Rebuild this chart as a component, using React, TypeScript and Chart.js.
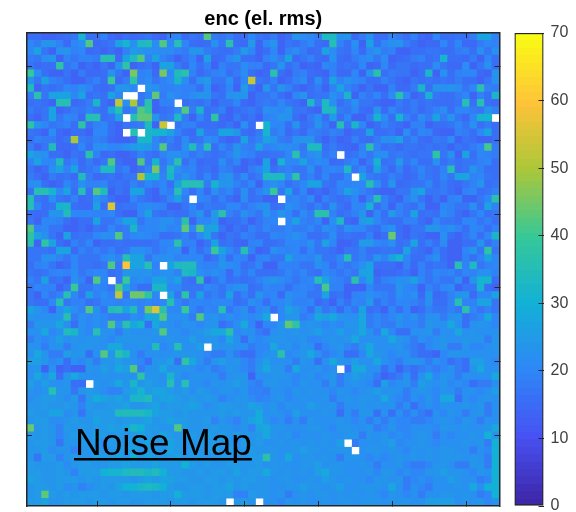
import React, { useEffect, useRef } from "react";
import { Chart, registerables } from "chart.js";

Chart.register(...registerables);

const _ = null;
const titleText = "enc (el. rms)";
const overlayText = "Noise Map";
const axisTicks = [10, 20, 30, 40, 50, 60];
const colorbarTicks = [0, 10, 20, 30, 40, 50, 60, 70];

// rows listed from the top of the picture to the bottom, 64 values each; null = no data (white)
const grid: (number | null)[][] = [
[16,16,14,14,15,16,17,31, 16,16,19,15,14,16,15,16, 17,15,14,19,20,15,17,16, 42,18,17,19,16,16,20,17, 16,18,14,16,24,21,20,18, 33,33,22,23,15,18,22,16, 16,20,18,16,19,15,14,20, 16,16,17,16,18,27,27,19],
[20,18,23,24,19,15,20,22, 42,15,16,17,27,31,22,33, 34,21,42,20,36,20,16,15, 16,22,17,37,16,15,25,14, 20,23,14,17,16,18,20,16, 15,36,19,16,22,14,27,16, 20,22,24,18,16,14,15,15, 20,16,20,15,15,18,20,19],
[20,27,17,14,22,24,19,20, 15,16,14,16,14,19,25,23, 22,21,21,21,19,18,24,23, 18,17,16,16,18,25,20,14, 16,20,14,19,21,18,15,16, 27,21,17,16,20,15,20,23, 18,19,14,14,16,16,17,17, 16,16,18,19,16,22,17,22],
[18,17,21,23,14,19,17,19, 19,18,35,35,15,27,33,42, 19,27,19,17,14,17,19,14, 27,15,16,20,23,16,16,14, 19,21,18,27,15,17,19,16, 15,22,16,15,18,20,21,17, 21,14,15,16,18,19,16,17, 31,16,16,15,18,14,20,16],
[17,15,16,16,38,17,19,14, 16,14,17,14,24,38,14,16, 17,14,27,27,18,15,20,16, 19,14,19,17,17,21,19,19, 15,17,24,16,18,14,15,14, 20,19,16,17,16,20,14,15, 20,15,17,17,15,16,16,21, 17,15,15,21,14,17,22,16],
[40,22,16,14,14,17,14,18, 15,15,16,24,17,14,45,19, 20,15,45,20,34,37,19,15, 17,19,20,16,18,21,16,14, 15,37,16,14,18,19,16,15, 14,19,15,15,20,14,24,37, 16,18,17,17,14,16,32,14, 22,16,19,20,20,15,14,24],
[24,17,27,19,18,16,14,14, 17,19,16,40,15,18,38,19, 21,17,19,21,32,21,16,22, 25,17,17,22,15,20,53,17, 16,19,14,16,19,21,15,22, 16,27,19,22,20,19,16,16, 19,17,15,14,17,16,17,16, 17,16,18,16,16,14,17,22],
[34,14,17,16,17,20,19,22, 19,16,15,16,24,24,20,_, 24,22,19,19,20,19,19,16, 22,14,16,20,14,25,17,14, 24,17,24,19,16,14,16,18, 14,19,27,19,17,14,17,14, 14,19,15,15,18,32,16,23, 22,23,21,17,20,37,19,18],
[18,37,17,27,27,27,20,27, 16,17,16,27,20,_,_,17, 19,43,18,22,20,19,21,23, 24,17,16,22,23,24,14,17, 17,19,16,14,20,23,16,17, 17,22,19,32,14,19,17,20, 16,21,37,20,14,16,31,17, 16,16,18,20,14,19,16,32],
[16,17,16,14,35,35,15,16, 18,32,16,14,52,22,50,17, 37,14,19,19,_,16,17,16, 18,14,17,17,20,15,14,17, 18,17,20,17,16,14,33,18, 33,22,16,18,22,17,17,15, 14,14,18,16,18,16,17,16, 16,16,17,36,16,36,16,15],
[18,16,17,27,14,16,18,17, 19,17,16,27,35,17,19,42, 38,14,16,17,20,42,18,32, 16,17,19,14,16,17,18,16, 22,21,20,24,17,17,15,14, 33,33,18,17,20,16,15,24, 15,20,17,16,18,15,17,19, 21,16,20,20,18,17,23,19],
[16,14,17,27,17,20,19,15, 36,36,16,17,27,_,36,43, 43,23,17,18,33,18,14,20, 16,38,15,14,18,15,17,14, 19,20,24,22,16,14,18,21, 16,25,16,20,14,14,18,31, 21,16,31,19,16,21,18,27, 18,24,17,15,20,31,31,_],
[38,23,20,17,18,19,16,38, 16,19,20,16,14,17,17,18, 33,14,53,_,17,19,19,16, 16,16,15,17,14,22,16,_, 31,20,20,16,23,16,17,24, 18,14,36,17,32,20,14,16, 19,17,16,14,19,19,14,16, 16,17,20,17,22,16,18,16],
[17,16,14,21,15,14,16,16, 14,20,20,16,14,_,36,_, 32,31,31,27,19,16,15,27, 17,17,27,27,23,16,15,18, 31,18,20,15,17,15,19,18, 17,19,18,14,16,16,27,16, 16,17,14,21,16,20,19,15, 14,14,19,18,16,20,27,16],
[16,19,18,18,15,17,50,18, 17,19,18,15,14,14,15,32, 32,20,17,19,16,21,16,17, 21,20,16,14,15,27,17,19, 27,23,18,17,22,23,24,17, 14,17,14,15,19,16,15,18, 22,22,27,17,19,16,15,18, 17,21,14,17,16,14,14,16],
[18,14,17,34,15,15,16,20, 16,22,22,20,20,22,25,27, 25,20,42,17,16,22,34,19, 36,16,20,17,23,19,18,27, 19,20,22,21,20,17,33,33, 16,18,16,15,14,19,37,19, 16,17,15,17,17,16,17,16, 17,14,17,16,18,20,41,18],
[27,23,22,16,16,14,17,16, 37,19,15,16,14,14,16,19, 17,16,19,22,22,20,17,19, 17,16,17,19,24,20,19,16, 16,17,17,20,37,18,21,23, 17,19,_,16,17,20,17,21, 22,17,18,17,16,17,17,38, 17,22,14,27,16,20,19,18],
[19,27,20,20,34,17,19,15, 18,15,17,42,16,14,14,42, 17,31,17,21,37,16,19,15, 16,16,22,17,20,14,16,14, 27,14,31,20,20,27,19,21, 20,15,16,18,20,14,18,31, 16,17,25,17,20,16,16,22, 16,18,16,17,17,19,20,16],
[17,14,16,22,27,19,27,16, 17,19,33,33,17,19,14,16, 19,45,18,33,22,19,20,16, 17,15,19,18,15,14,18,20, 27,16,18,19,17,17,22,16, 19,20,19,33,17,20,16,27, 18,15,19,15,17,20,17,16, 19,36,16,17,24,19,16,16],
[18,16,14,18,16,17,15,34, 18,15,16,17,15,17,17,50, 31,31,19,32,19,24,19,16, 20,16,22,24,17,21,16,18, 33,33,33,21,38,17,19,16, 20,16,16,20,_,27,18,17, 16,19,17,15,16,19,17,16, 20,17,27,27,19,20,17,16],
[21,22,16,14,15,20,17,22, 19,19,20,16,17,16,19,17, 20,18,20,16,27,35,35,36, 18,31,23,24,19,17,20,14, 20,22,20,16,18,20,27,27, 17,16,20,19,20,20,36,22, 16,23,15,16,17,17,20,16, 18,16,15,17,19,24,16,17],
[16,35,35,31,20,27,16,36, 16,42,34,14,17,15,27,27, 16,14,20,18,35,20,16,20, 15,22,18,20,16,22,16,19, 23,40,17,27,16,20,14,16, 14,17,19,27,22,19,17,15, 14,14,17,17,23,27,17,17, 18,16,14,19,20,16,17,19],
[35,17,16,22,17,16,19,15, 16,22,19,16,14,14,20,17, 16,14,16,20,27,18,_,20, 19,16,19,16,14,21,16,17, 14,14,_,19,20,18,21,14, 19,17,16,17,20,14,19,36, 19,16,14,19,22,17,14,17, 14,19,20,14,14,17,20,37],
[36,20,16,17,31,32,16,15, 15,27,16,55,16,17,17,20, 21,20,19,14,14,17,20,16, 18,17,17,20,20,17,19,21, 22,16,17,22,20,18,16,19, 16,22,17,15,20,20,31,16, 19,14,19,17,16,20,14,14, 20,19,17,17,22,16,27,19],
[16,15,16,24,24,34,20,20, 20,19,19,20,16,14,14,20, 27,17,16,17,16,16,19,24, 16,25,37,19,17,22,19,17, 24,19,24,20,16,21,18,37, 37,19,16,17,19,24,14,20, 16,25,19,17,27,16,17,16, 21,19,16,14,17,20,16,17],
[17,14,20,20,19,16,14,16, 16,27,17,17,20,27,27,17, 20,20,22,22,19,37,14,20, 20,24,14,16,16,18,14,17, 19,20,_,20,27,19,18,20, 14,22,33,15,14,25,27,20, 17,16,16,19,19,16,14,20, 17,17,16,20,20,17,19,16],
[42,19,20,17,17,14,14,16, 14,17,16,20,17,18,32,19, 20,20,22,19,20,43,20,42, 27,27,17,14,17,15,19,17, 20,18,18,20,18,18,20,17, 22,20,17,22,20,20,17,16, 20,22,16,14,17,17,24,24, 20,22,19,16,20,19,16,19],
[38,27,22,17,14,27,16,17, 17,20,22,21,42,18,20,21, 20,19,16,16,17,19,16,20, 27,17,14,17,16,19,18,16, 16,20,19,20,22,20,16,16, 17,21,16,17,16,16,19,14, 16,44,16,14,17,16,14,14, 22,16,14,17,20,16,20,32],
[37,14,38,27,16,14,19,17, 20,14,16,16,17,16,16,16, 16,17,20,20,37,19,19,14, 17,27,16,17,15,14,19,20, 16,16,17,20,20,19,22,17, 27,20,14,14,16,25,25,20, 19,22,16,17,27,16,19,16, 21,14,14,16,16,24,16,19],
[17,17,17,16,27,27,15,19, 17,19,17,19,16,17,22,22, 20,17,19,21,22,14,20,16, 19,40,27,20,17,36,19,14, 15,22,20,19,20,16,20,17, 17,16,14,17,17,19,16,16, 17,17,16,27,17,16,14,19, 16,14,14,20,24,17,38,17],
[17,17,22,22,19,17,20,17, 17,17,20,22,19,35,27,27, 17,21,22,22,19,20,20,20, 15,17,22,16,20,19,14,19, 20,17,17,27,20,20,19,24, 17,17,20,36,17,19,17,23, 19,27,31,20,16,16,19,22, 16,14,14,19,16,19,27,20],
[16,19,20,17,14,16,20,17, 17,16,17,42,17,60,27,27, 35,19,_,27,33,34,34,20, 19,19,24,21,20,16,17,20, 14,14,19,19,19,17,17,22, 20,16,19,17,19,22,27,16, 16,16,14,19,15,19,16,17, 17,14,36,19,33,17,19,20],
[17,16,17,19,20,19,21,17, 19,20,20,16,17,24,24,22, 24,20,22,22,19,33,32,22, 20,22,20,15,20,17,20,16, 16,16,17,20,18,20,17,16, 20,19,17,19,17,27,27,14, 15,15,16,17,14,19,17,20, 19,20,17,20,19,22,22,19],
[19,17,27,16,17,14,22,19, 14,42,20,_,17,40,20,22, 20,27,27,22,27,17,16,38, 14,17,20,16,17,16,17,19, 22,24,21,19,17,19,20,36, 27,20,19,17,37,20,27,16, 19,20,22,22,27,20,17,19, 17,17,22,14,24,31,31,16],
[17,20,19,19,14,17,40,17, 17,20,19,17,42,27,19,16, 16,32,32,20,20,17,17,17, 20,19,17,20,22,22,16,17, 20,19,19,16,19,20,19,17, 41,19,19,14,14,14,20,17, 17,17,24,20,19,14,19,17, 20,21,14,17,17,31,16,14],
[17,14,20,17,19,36,20,16, 27,19,22,19,52,17,44,44, 38,20,_,27,17,38,17,27, 17,19,17,27,16,19,16,24, 19,20,15,22,20,20,17,17, 27,16,17,14,19,20,22,20, 19,17,22,20,22,15,24,15, 16,19,24,24,15,20,20,27],
[17,16,16,20,35,17,19,19, 16,17,20,20,19,20,20,19, 20,19,20,35,20,17,20,20, 19,20,20,20,16,17,22,20, 16,20,20,22,19,19,20,15, 17,14,19,16,20,19,25,16, 19,17,20,20,19,17,22,16, 16,19,36,19,19,27,27,17],
[27,24,20,14,22,27,22,19, 42,22,17,34,36,27,34,19, 45,55,37,20,20,40,20,17, 20,19,36,17,20,22,16,20, 22,16,20,27,24,20,16,24, 17,19,15,20,17,27,16,17, 14,20,16,20,14,16,19,17, 17,19,17,37,20,17,19,17],
[24,22,22,22,24,36,18,22, 20,22,20,18,18,18,22,20, 28,28,42,22,22,22,18,42, 22,24,20,22,20,22,20,22, 28,_,20,24,24,18,20,28, 26,28,24,22,22,28,18,20, 18,20,24,20,22,18,22,22, 18,22,24,16,18,20,28,20],
[18,24,24,24,28,22,16,22, 20,22,20,42,22,37,28,31, 16,28,24,22,20,24,22,20, 22,24,16,18,22,28,20,14, 20,20,24,43,38,22,24,22, 20,22,20,24,24,28,18,20, 18,18,22,20,20,18,24,22, 22,28,22,16,22,24,22,20],
[22,22,28,20,22,34,32,22, 20,36,22,22,18,24,22,22, 22,24,42,22,22,20,22,24, 26,28,28,37,20,22,22,18, 16,22,24,22,24,22,24,26, 22,22,26,22,24,28,22,18, 28,20,16,16,22,22,24,18, 22,22,28,22,24,22,22,22],
[18,22,20,22,26,22,24,22, 24,24,22,20,24,24,24,24, 24,22,22,24,22,22,26,22, 24,24,20,28,22,16,22,20, 22,24,24,22,22,24,20,20, 22,24,22,24,28,22,22,22, 22,28,24,22,18,22,20,22, 24,22,22,24,24,24,18,24],
[24,22,18,22,24,18,22,24, 24,22,22,28,28,22,22,24, 22,34,20,22,36,22,22,26, _,24,22,24,22,22,18,20, 20,28,22,24,20,24,22,16, 20,22,24,20,18,24,28,22, 22,22,24,20,18,16,20,22, 24,18,18,24,20,20,22,24],
[22,28,24,18,18,26,24,24, 16,22,42,24,37,32,22,18, 22,22,22,22,24,24,24,22, 20,18,18,22,18,16,16,20, 22,24,37,20,22,24,28,22, 18,20,22,16,16,20,28,24, 22,20,22,22,18,16,16,14, 20,24,24,22,22,22,22,22],
[26,26,24,20,22,16,22,20, 24,18,24,24,26,24,22,20, 16,24,24,26,16,38,28,22, 18,24,26,22,24,20,18,22, 26,22,22,22,18,24,22,16, 22,28,24,22,26,22,22,28, 22,20,18,22,24,22,18,22, 20,16,18,16,26,26,22,20],
[22,24,14,22,14,16,14,14, 24,22,26,24,28,26,42,18, 22,24,28,22,24,24,22,20, 22,18,20,24,22,20,18,24, 28,24,24,18,28,22,22,24, 20,22,_,16,28,28,22,22, 16,20,14,18,16,18,20,18, 20,22,18,16,24,28,22,22],
[22,28,22,28,16,24,28,24, 22,22,24,22,22,24,22,38, 24,24,22,32,24,20,22,24, 22,22,18,22,24,24,14,22, 22,24,24,22,20,22,24,20, 22,24,18,22,26,24,22,18, 14,16,18,22,16,22,28,20, 24,22,18,22,22,22,22,28],
[26,22,26,22,22,24,16,16, _,24,22,24,28,24,32,24, 26,24,22,36,22,36,22,22, 20,24,22,24,26,24,20,18, 24,24,22,22,20,24,22,22, 18,24,18,22,24,22,20,16, 26,20,22,24,18,26,24,22, 24,20,22,20,16,18,18,22],
[23,21,23,35,23,23,17,23, 25,23,21,19,19,25,27,31, 25,27,27,25,23,25,21,25, 23,21,23,23,21,23,19,19, 18,22,22,20,24,22,24,22, 22,20,24,22,20,22,24,26, 22,24,22,18,22,24,22,20, 24,22,18,22,22,20,22,26],
[21,23,25,25,23,21,25,17, 25,29,27,25,27,23,32,32, 34,25,27,27,25,23,25,23, 25,23,19,21,23,23,21,19, 20,22,24,20,22,24,22,22, 24,18,22,24,22,24,24,22, 28,22,20,18,22,20,24,20, 28,28,16,22,20,22,24,22],
[23,23,25,23,23,25,23,19, 25,23,23,25,25,27,23,23, 25,27,23,25,25,25,27,25, 21,23,25,25,23,23,27,25, 22,24,20,24,22,22,26,24, 22,24,18,22,22,24,22,24, 22,24,18,22,16,20,22,20, 24,22,22,24,22,24,18,22],
[25,23,23,27,27,21,23,17, 23,25,25,25,34,34,34,34, 32,27,25,25,23,25,23,23, 23,23,25,23,25,23,23,29, 22,24,22,20,26,22,22,22, 24,22,16,22,18,24,24,16, 22,16,22,18,22,18,16,22, 20,24,22,18,22,24,18,22],
[23,25,25,21,21,23,25,23, 23,27,25,25,23,25,25,25, 27,23,25,27,25,25,23,23, 25,19,23,21,19,23,27,29, 24,20,22,18,22,18,24,22, 22,22,24,22,20,22,18,22, 18,22,20,20,18,18,20,22, 24,22,20,24,22,18,22,22],
[44,23,25,23,19,25,23,25, 23,25,25,27,25,27,32,30, 25,25,23,23,42,25,23,23, 23,25,23,23,21,23,19,27, 28,24,24,22,22,22,24,24, 22,20,24,24,22,22,24,18, 20,24,20,20,22,22,22,20, 24,24,22,24,22,22,24,28],
[25,23,25,23,19,23,25,25, 23,27,25,23,25,23,25,27, 25,23,27,25,23,25,25,23, 27,23,25,23,25,23,23,25, 28,24,22,24,20,22,22,22, 24,22,22,24,24,18,24,22, 24,20,22,20,22,24,22,18, 22,20,22,22,24,22,30,24],
[23,25,25,23,17,23,23,25, 23,25,21,25,23,25,25,25, 27,25,25,27,25,23,23,25, 23,25,25,23,21,25,23,25, 22,22,24,22,24,22,24,22, 24,22,26,_,18,22,22,22, 24,26,20,22,22,24,22,20, 22,22,22,24,22,24,18,30],
[23,23,25,21,23,23,19,23, 23,25,23,23,25,25,27,23, 25,25,23,27,25,23,25,23, 25,27,23,25,23,23,25,23, 24,24,22,24,24,26,24,24, 22,24,24,24,_,22,24,24, 22,24,22,20,24,22,24,22, 24,24,22,22,18,22,20,30],
[23,17,25,25,19,23,25,23, 23,27,25,25,27,23,30,25, 27,25,23,25,27,23,25,25, 23,23,25,25,23,23,25,25, 37,24,22,28,22,24,24,22, 24,22,18,24,24,22,20,22, 20,22,24,22,24,22,24,22, 24,24,24,22,24,22,18,30],
[25,23,23,23,25,21,23,25, 25,23,23,25,25,27,25,25, 25,27,25,25,25,30,25,23, 25,23,23,25,25,23,23,25, 22,24,24,22,22,24,24,26, 22,24,24,22,22,24,22,18, 22,22,24,20,18,18,20,24, 24,22,18,18,24,24,18,30],
[25,25,23,23,25,23,19,25, 25,25,30,31,31,33,34,34, 32,34,30,25,25,23,23,25, 23,25,25,23,27,23,25,25, 28,24,22,24,22,24,22,26, 28,24,24,22,22,22,24,20, 24,24,20,22,20,20,24,24, 26,24,24,22,20,24,22,30],
[27,25,23,23,25,25,25,23, 25,23,25,25,25,25,23,25, 27,25,27,27,25,25,23,23, 25,25,23,25,23,25,25,23, 24,22,24,24,22,22,24,22, 26,24,22,24,22,22,20,24, 24,22,24,18,20,22,20,22, 22,26,24,22,22,18,20,30],
[23,25,25,23,25,21,23,19, 21,23,25,23,27,30,30,32, 33,32,30,25,23,23,25,25, 23,25,25,27,23,25,23,23, 24,22,22,24,24,26,24,24, 22,24,26,22,22,24,24,24, 22,28,22,18,22,20,18,22, 22,22,24,22,28,22,30,30],
[23,25,43,25,23,25,23,25, 25,25,23,25,25,23,25,25, 25,23,25,25,30,25,25,25, 23,25,25,25,19,19,25,23, 24,22,24,18,22,24,22,24, 24,22,24,22,24,22,24,22, 20,24,22,20,22,18,22,22, 24,24,22,24,22,18,20,30],
[25,25,27,23,23,25,25,25, 23,25,25,23,25,25,23,23, 25,25,25,23,25,25,23,25, 25,25,23,_,23,25,23,_, 22,22,20,24,22,24,22,22, 24,22,24,24,22,24,24,24, 22,24,24,24,22,22,26,26, 26,26,22,24,22,24,20,24],
];

const anchors: [number, number, number, number][] = [
  [0, 62, 38, 168], [0.143, 71, 82, 244], [0.286, 46, 135, 247], [0.429, 18, 177, 214],
  [0.571, 55, 200, 151], [0.714, 171, 199, 57], [0.857, 254, 195, 56], [1, 249, 251, 21],
];
const VMAX = 70;
const LEVELS = 64;
function parula(v: number): string {
  const lvl = Math.min(LEVELS - 1, Math.max(0, Math.floor((v / VMAX) * LEVELS)));
  const t = lvl / (LEVELS - 1);
  let i = 0;
  while (i < anchors.length - 2 && t > anchors[i + 1][0]) i++;
  const a = anchors[i], b = anchors[i + 1];
  const f = (t - a[0]) / (b[0] - a[0]);
  const c = [1, 2, 3].map((k) => Math.round(a[k] + (b[k] - a[k]) * f));
  return `rgb(${c[0]},${c[1]},${c[2]})`;
}

const points: { x: number; y: number }[] = [];
const colors: string[] = [];
const missing: { x: number; y: number }[] = [];
grid.forEach((row, r) =>
  row.forEach((v, c) => {
    const p = { x: c + 1, y: grid.length - r };
    if (v === null) { missing.push(p); return; }
    points.push(p);
    colors.push(parula(v));
  })
);

const FRAME = "#262626";
const FONT = "'Liberation Sans', Arial, sans-serif";

function frameAxis(position: string, ticks: number[], horizontal: boolean) {
  return {
    type: "linear",
    position,
    min: 0.5,
    max: 64.5,
    afterBuildTicks: (s: any) => { s.ticks = ticks.map((value) => ({ value })); },
    afterFit: (s: any) => { if (horizontal) s.height = 0; else s.width = 0; },
    ticks: { display: false },
    grid: { drawOnChartArea: false, color: FRAME, tickLength: -5, tickWidth: 1, z: 2 },
    border: { display: true, color: FRAME, width: 1.5, z: 2 },
  };
}

const noiseMapLabel = {
  id: "noiseMapLabel",
  afterDraw(chart: any) {
    const ctx = chart.ctx;
    ctx.save();
    ctx.font = `37px ${FONT}`;
    ctx.fillStyle = "#000";
    ctx.textBaseline = "alphabetic";
    ctx.textAlign = "left";
    ctx.fillText(overlayText, 75, 454.5);
    const w = ctx.measureText(overlayText).width;
    ctx.fillRect(74, 458, w + 1, 2.5);
    ctx.restore();
  },
};

function cellRadius(extra: number) {
  return (ctx: any) => {
    const a = ctx.chart.chartArea;
    const half = (a ? (a.right - a.left) / 64 : 7.39) / 2 + extra;
    return half / Math.SQRT1_2;
  };
}

export default function App() {
  const mainRef = useRef<HTMLCanvasElement>(null);
  const barRef = useRef<HTMLCanvasElement>(null);
  useEffect(() => {
    const main = new Chart(mainRef.current as any, {
      type: "scatter",
      data: {
        datasets: [
          {
            data: missing,
            showLine: false,
            pointStyle: "rect",
            pointBackgroundColor: "#ffffff",
            pointBorderWidth: 0,
            pointRadius: cellRadius(0),
          },
          {
            data: points,
            showLine: false,
            pointStyle: "rect",
            pointBackgroundColor: colors,
            pointBorderWidth: 0,
            pointRadius: cellRadius(0.5),
          },
        ],
      },
      options: {
        animation: false,
        responsive: false,
        events: [],
        layout: { padding: { left: 27, right: 76.5, top: 0, bottom: 6 } },
        plugins: {
          legend: { display: false },
          tooltip: { enabled: false },
          title: {
            display: true,
            text: titleText,
            fullSize: false,
            color: "#000",
            font: { family: FONT, size: 20, weight: "bold", lineHeight: 1.2 },
            padding: { top: 7, bottom: 2 },
          },
        },
        scales: {
          x: frameAxis("bottom", axisTicks, true),
          x2: frameAxis("top", axisTicks, true),
          y: frameAxis("left", axisTicks, false),
          y2: frameAxis("right", axisTicks, false),
        },
      } as any,
      plugins: [noiseMapLabel],
    } as any);

    const bar = new Chart(barRef.current as any, {
      type: "bar",
      data: {
        labels: [""],
        datasets: [{
          data: [[0, VMAX]],
          barPercentage: 1,
          categoryPercentage: 1,
          borderWidth: 1.5,
          borderColor: FRAME,
          borderSkipped: false,
          backgroundColor: (ctx: any) => {
            const a = ctx.chart.chartArea;
            if (!a) return "#000";
            const g = ctx.chart.ctx.createLinearGradient(0, a.bottom, 0, a.top);
            for (let i = 0; i < LEVELS; i++) {
              const col = parula(((i + 0.5) / LEVELS) * VMAX);
              g.addColorStop(i / LEVELS, col);
              g.addColorStop((i + 1) / LEVELS, col);
            }
            return g;
          },
        }],
      },
      options: {
        animation: false,
        responsive: false,
        events: [],
        layout: { padding: { left: 514.5, right: 0, top: 33, bottom: 6 } },
        plugins: { legend: { display: false }, tooltip: { enabled: false } },
        scales: {
          x: { display: false, afterFit: (s: any) => { s.height = 0; } },
          y: {
            position: "right",
            min: 0,
            max: VMAX,
            afterBuildTicks: (s: any) => { s.ticks = colorbarTicks.map((value) => ({ value })); },
            afterFit: (s: any) => { s.width = 32.5; s.paddingTop = 0; s.paddingBottom = 0; },
            ticks: { color: "#404040", padding: 12, font: { family: FONT, size: 16 } },
            grid: { drawOnChartArea: false, color: FRAME, tickLength: -5, z: 2 },
            border: { display: false },
          },
        },
      } as any,
    } as any);
    return () => { main.destroy(); bar.destroy(); };
  }, []);
  const style: React.CSSProperties = { position: "absolute", left: 0, top: 0, width: 576, height: 512 };
  return (
    <div style={{ position: "absolute", left: 0, top: 0, width: 576, height: 512, background: "#fff" }}>
      <canvas ref={barRef} width={576} height={512} style={style} />
      <canvas ref={mainRef} width={576} height={512} style={style} />
    </div>
  );
}
